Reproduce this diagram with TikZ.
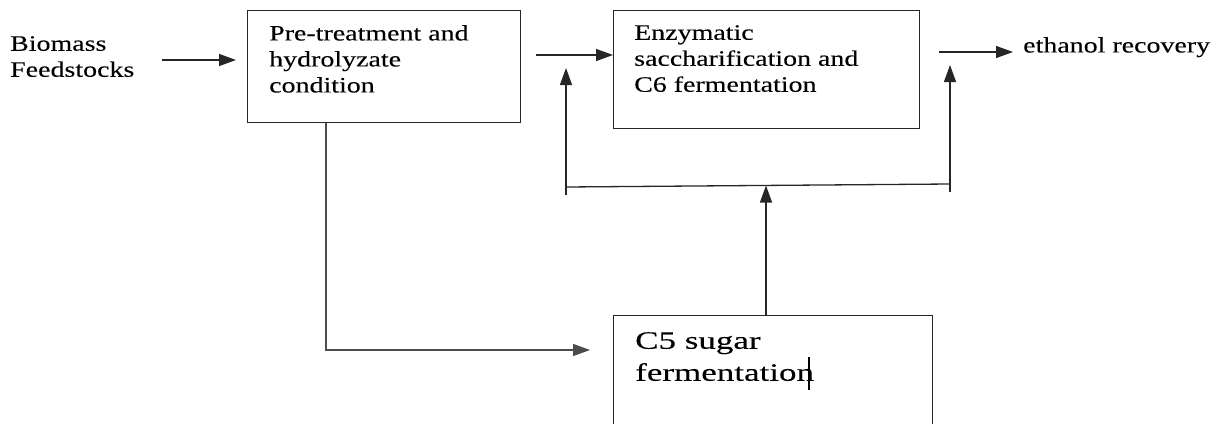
\documentclass[tikz,border=0pt]{standalone}
\usepackage{fontspec}
\setmainfont{Liberation Serif}[FakeStretch=1.27,FakeBold=0.15]
\newfontfamily\bigserif{Liberation Serif}[FakeStretch=1.4,FakeBold=0.15]
\usetikzlibrary{arrows.meta}
\begin{document}
\begin{tikzpicture}[x=1pt,y=-1pt,
  ln/.style={draw=black!85, line width=1.3pt},
  arr/.style={ln, -{Triangle[length=17pt,width=12pt]}},
  box/.style={draw=black!85, line width=1.3pt, anchor=north west, inner sep=0pt},
  txt/.style={anchor=north west, inner sep=0pt, align=left, text=black,
              font=\fontsize{22}{26}\selectfont},
  bigtxt/.style={anchor=north west, inner sep=0pt, align=left, text=black,
              font=\bigserif\fontsize{25}{32}\selectfont}]
\useasboundingbox (0,0) rectangle (1220,423);
\clip (0,0) rectangle (1220,423);
% boxes
\node[box, minimum width=273pt, minimum height=112pt] (pre) at (247,10) {};
\node[box, minimum width=306pt, minimum height=118pt] (enz) at (613,10) {};
\node[box, minimum width=319pt, minimum height=140pt] (c5) at (613,315) {};
% texts
\node[txt] (bio) at (10,36) {Biomass\\Feedstocks};
\node[txt] (pretxt) at (269,25) {Pre-treatment and\\hydrolyzate\\condition};
\node[txt] (enztxt) at (634,25) {Enzymatic\\saccharification and\\C6 fermentation};
\node[txt] (eth) at (1023,37) {ethanol recovery};
\node[bigtxt] (c5txt) at (635,332) {C5 sugar\\fermentation};
% coordinates
\coordinate (a1s) at (162,60);
\coordinate (a1e) at (236,60);
\coordinate (a2s) at (536,55);
\coordinate (a3s) at (939,52);
\coordinate (a3e) at (1013,52);
\coordinate (fbLb) at (566,195);
\coordinate (fbLt) at (566,68);
\coordinate (fbRb) at (950,192);
\coordinate (fbRt) at (950,65);
\coordinate (fbL) at (566,187);
\coordinate (fbR) at (950,184);
\coordinate (mid) at (766,185.5);
\coordinate (c5in) at (590,350);
\coordinate (cur1) at (809,357);
\coordinate (cur2) at (809,390);
% connectors
\draw[arr] (a1s) -- (a1e);
\draw[arr] (a2s) -- (a2s -| enz.west);
\draw[arr] (a3s) -- (a3e);
\draw[ln] (fbL) -- (fbR);
\draw[arr] (fbLb) -- (fbLt);
\draw[arr] (fbRb) -- (fbRt);
\draw[arr] (c5.north -| mid) -- (mid);
\draw[arr, draw=black!70] ([xshift=79pt]pre.south west) |- (c5in);
% text cursor
\draw[line width=1.4pt, black] (cur1) -- (cur2);
\end{tikzpicture}
\end{document}
